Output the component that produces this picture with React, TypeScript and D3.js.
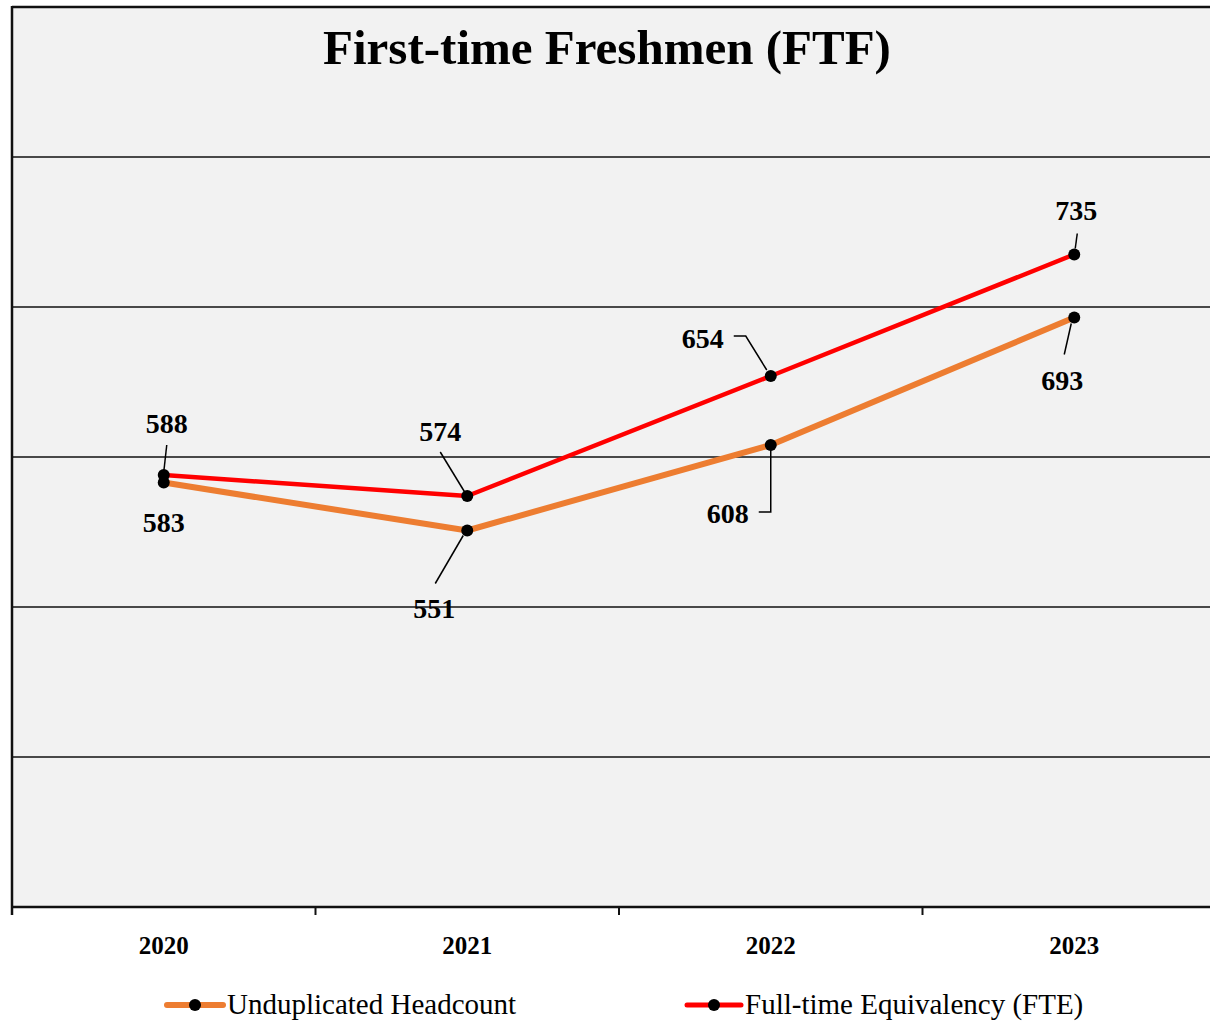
import React from 'react';
import * as d3 from 'd3';

const years = ['2020', '2021', '2022', '2023'];
const headcount = [583, 551, 608, 693];
const fte = [588, 574, 654, 735];
const yTicks = [300, 400, 500, 600, 700, 800, 900];
const seriesNames = ['Unduplicated Headcount', 'Full-time Equivalency (FTE)'];

// label placement relative to each point: [dx, dy] of text centre, plus leader path points
const fteLabels = [
  {dx: 3, dy: -52, leader: [[3, -30], [0, -3]]},
  {dx: -27, dy: -65, leader: [[-27, -44], [-2, -3]]},
  {dx: -68, dy: -38, leader: [[-37, -40], [-25, -40], [-4, -6]]},
  {dx: 2, dy: -44, leader: [[3, -21], [1, -6]]},
];
const headLabels = [
  {dx: 0, dy: 40, leader: null},
  {dx: -33, dy: 78, leader: [[-4, 5], [-32, 53]]},
  {dx: -43, dy: 68, leader: [[0, 3], [0, 67], [-12, 67]]},
  {dx: -12, dy: 63, leader: [[-3, 6], [-10, 37]]},
];

export default function App() {
  const W = 1210, H = 1021;
  const left = 12, top = 7, bottom = 907;

  const x = d3.scaleBand<string>().domain(years).range([left, left + 4 * 303.5]);
  const y = d3.scaleLinear().domain([300, 900]).range([bottom, top]);
  const cx = (i: number) => (x(years[i]) as number) + x.bandwidth() / 2;

  const line = d3.line<number>().x((d, i) => cx(i)).y(d => y(d));

  const serif = '"Liberation Serif", "DejaVu Serif", serif';

  const labels = (vals: number[], cfg: typeof fteLabels) =>
    vals.map((v, i) => {
      const px = cx(i), py = y(v);
      const c = cfg[i];
      return (
        <g key={i}>
          {c.leader && (
            <polyline
              points={c.leader.map(p => `${px + p[0]},${py + p[1]}`).join(' ')}
              fill="none" stroke="#000" strokeWidth={1.5}
            />
          )}
          <text x={px + c.dx} y={py + c.dy} dy="0.35em" textAnchor="middle"
            fontFamily={serif} fontWeight="bold" fontSize={28} fill="#000">{v}</text>
        </g>
      );
    });

  const ticksX = d3.range(0, 5).map(i => left + i * x.step());

  return (
    <svg width={W} height={H} style={{position: 'absolute', left: 0, top: 0, background: '#fff'}}>
      <rect x={left} y={top} width={x.range()[1] - left} height={bottom - top} fill="#f2f2f2" />
      {/* grid */}
      <g className="grid">
        {yTicks.filter(t => t > 300).map(t => (
          <line key={t} x1={left} x2={W} y1={y(t)} y2={y(t)} stroke="#111"
            strokeWidth={t === 900 ? 2.5 : 1.5} />
        ))}
      </g>
      <line x1={left} x2={left} y1={top - 1} y2={bottom + 8} stroke="#111" strokeWidth={2.5} />
      <line x1={left} x2={W} y1={bottom} y2={bottom} stroke="#111" strokeWidth={2.5} />
      {ticksX.map((t, i) => (
        <line key={i} x1={t} x2={t} y1={bottom} y2={bottom + 8} stroke="#111" strokeWidth={2} />
      ))}
      {years.map((yr, i) => (
        <text key={yr} x={cx(i)} y={945} dy="0.35em" textAnchor="middle"
          fontFamily={serif} fontWeight="bold" fontSize={25} fill="#000">{yr}</text>
      ))}

      <text x={607} y={64} textAnchor="middle" fontFamily={serif} fontWeight="bold"
        fontSize={49} fill="#000">First-time Freshmen (FTF)</text>

      <path d={line(headcount) || ''} fill="none" stroke="#ED7D31" strokeWidth={6} strokeLinejoin="round" />
      <path d={line(fte) || ''} fill="none" stroke="#FF0000" strokeWidth={4.5} strokeLinejoin="round" />
      {headcount.map((v, i) => <circle key={'h' + i} cx={cx(i)} cy={y(v)} r={6} fill="#000" />)}
      {fte.map((v, i) => <circle key={'f' + i} cx={cx(i)} cy={y(v)} r={6} fill="#000" />)}

      {labels(fte, fteLabels)}
      {labels(headcount, headLabels)}

      {/* legend */}
      <g transform="translate(167,1005)">
        <line x1={0} x2={56} y1={0} y2={0} stroke="#ED7D31" strokeWidth={6} strokeLinecap="round" />
        <circle cx={28} cy={0} r={6} fill="#000" />
        <text x={60} y={9} fontFamily={serif} fontSize={29} fill="#000">{seriesNames[0]}</text>
      </g>
      <g transform="translate(687,1005)">
        <line x1={0} x2={54} y1={0} y2={0} stroke="#FF0000" strokeWidth={5} strokeLinecap="round" />
        <circle cx={27} cy={0} r={6} fill="#000" />
        <text x={58} y={9} fontFamily={serif} fontSize={29} fill="#000">{seriesNames[1]}</text>
      </g>
    </svg>
  );
}
